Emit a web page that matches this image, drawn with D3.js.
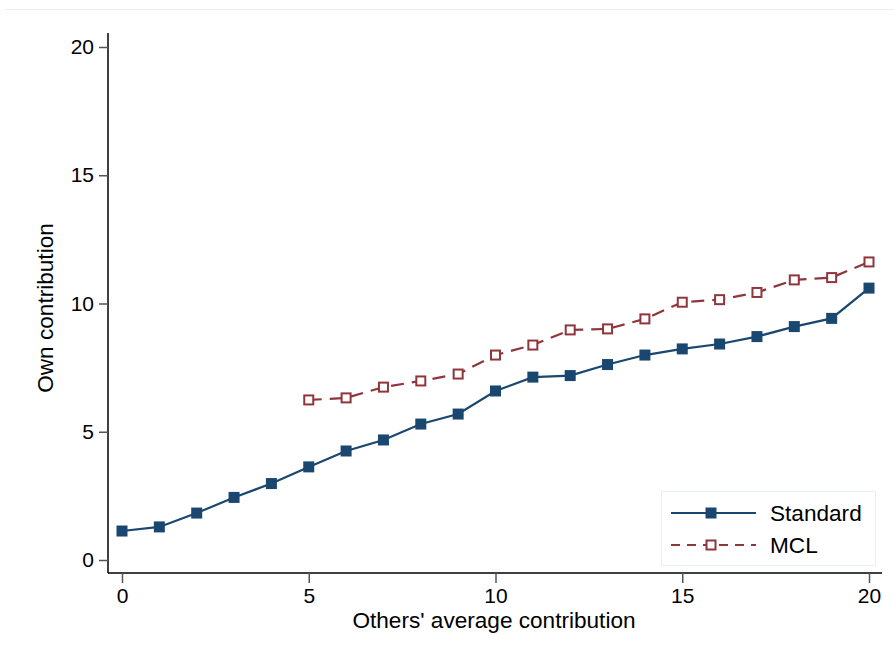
<!DOCTYPE html>
<html>
<head>
<meta charset="utf-8">
<script src="https://cdn.jsdelivr.net/npm/d3@7"></script>
<style>
  body { margin: 0; background: #fff; }
  text { font-family: "Liberation Sans", Arial, sans-serif; fill: #000; }
</style>
</head>
<body>
<div class="chart"></div>
<script>
// data
var xStandard = [0, 1, 2, 3, 4, 5, 6, 7, 8, 9, 10, 11, 12, 13, 14, 15, 16, 17, 18, 19, 20];
var yStandard = [1.13, 1.29, 1.83, 2.44, 2.98, 3.63, 4.25, 4.68, 5.3, 5.69, 6.59, 7.13, 7.19, 7.62, 7.99, 8.23, 8.42, 8.71, 9.1, 9.42, 10.6];
var xMCL = [5, 6, 7, 8, 9, 10, 11, 12, 13, 14, 15, 16, 17, 18, 19, 20];
var yMCL = [6.24, 6.32, 6.74, 6.98, 7.25, 7.99, 8.38, 8.97, 9.01, 9.4, 10.05, 10.15, 10.43, 10.92, 11.01, 11.62];
var xTicks = [0, 5, 10, 15, 20];
var yTicks = [0, 5, 10, 15, 20];
var seriesNames = ["Standard", "MCL"];

var svgWidth = 894;
var svgHeight = 657;

var svg = d3.select(".chart")
  .append("svg")
  .attr("width", svgWidth)
  .attr("height", svgHeight);

// faint frame line at the top
svg.append("line")
  .attr("x1", 5).attr("x2", svgWidth)
  .attr("y1", 9.5).attr("y2", 9.5)
  .attr("stroke", "#eeeeee");

var xScale = d3.scaleLinear().domain([0, 20]).range([122, 869]);
var yScale = d3.scaleLinear().domain([0, 20]).range([560, 47]);

// axes
var bottomAxis = d3.axisBottom(xScale).tickValues(xTicks).tickSize(10).tickSizeOuter(0).tickPadding(5);
var leftAxis = d3.axisLeft(yScale).tickValues(yTicks).tickSize(9).tickSizeOuter(0).tickPadding(5);

var gx = svg.append("g")
  .attr("transform", "translate(0,573)")
  .call(bottomAxis);
gx.select(".domain").attr("d", "M108,0H882").attr("stroke", "#000").attr("stroke-width", 1.5);
gx.selectAll(".tick line").attr("stroke", "#555").attr("stroke-width", 1.5);
gx.selectAll(".tick text").style("font-size", "21px").attr("font-family", null);

var gy = svg.append("g")
  .attr("transform", "translate(108,0)")
  .call(leftAxis);
gy.select(".domain").attr("d", "M0,33V573").attr("stroke", "#000").attr("stroke-width", 1.5);
gy.selectAll(".tick line").attr("stroke", "#555").attr("stroke-width", 1.5);
gy.selectAll(".tick text").style("font-size", "21px").attr("font-family", null);

// axis titles
svg.append("text")
  .attr("x", 494).attr("y", 628)
  .attr("text-anchor", "middle")
  .style("font-size", "22.6px")
  .text("Others' average contribution");

svg.append("text")
  .attr("transform", "translate(53,308) rotate(-90)")
  .attr("text-anchor", "middle")
  .style("font-size", "22.6px")
  .text("Own contribution");

var line = d3.line()
  .x(function(d) { return xScale(d[0]); })
  .y(function(d) { return yScale(d[1]); });

var standardData = xStandard.map(function(x, i) { return [x, yStandard[i]]; });
var mclData = xMCL.map(function(x, i) { return [x, yMCL[i]]; });

var navy = "#1a476f";
var maroon = "#90353b";

// MCL series (dashed, hollow squares)
svg.append("path")
  .datum(mclData)
  .attr("d", line)
  .attr("fill", "none")
  .attr("stroke", maroon)
  .attr("stroke-width", 2.2)
  .attr("stroke-dasharray", "13,8");

svg.selectAll(".mcl")
  .data(mclData)
  .enter()
  .append("rect")
  .attr("class", "mcl")
  .attr("x", function(d) { return xScale(d[0]) - 4.5; })
  .attr("y", function(d) { return yScale(d[1]) - 4.5; })
  .attr("width", 9)
  .attr("height", 9)
  .attr("fill", "#fff")
  .attr("stroke", maroon)
  .attr("stroke-width", 2);

// Standard series (solid, filled squares)
svg.append("path")
  .datum(standardData)
  .attr("d", line)
  .attr("fill", "none")
  .attr("stroke", navy)
  .attr("stroke-width", 2.2);

svg.selectAll(".std")
  .data(standardData)
  .enter()
  .append("rect")
  .attr("class", "std")
  .attr("x", function(d) { return xScale(d[0]) - 5.5; })
  .attr("y", function(d) { return yScale(d[1]) - 5.5; })
  .attr("width", 11)
  .attr("height", 11)
  .attr("fill", navy);

// legend
var legend = svg.append("g");
legend.append("rect")
  .attr("x", 661.5).attr("y", 491.5)
  .attr("width", 214).attr("height", 74)
  .attr("fill", "#fff")
  .attr("stroke", "#eaf0f0");

var rows = [
  {name: seriesNames[0], color: navy, dash: null, y: 513},
  {name: seriesNames[1], color: maroon, dash: "9,7", y: 545}
];
rows.forEach(function(r, i) {
  legend.append("line")
    .attr("x1", 671).attr("x2", 756)
    .attr("y1", r.y).attr("y2", r.y)
    .attr("stroke", r.color)
    .attr("stroke-width", 2.2)
    .attr("stroke-dasharray", r.dash);
  if (i === 0) {
    legend.append("rect")
      .attr("x", 711 - 5.5).attr("y", r.y - 5.5)
      .attr("width", 11).attr("height", 11)
      .attr("fill", r.color);
  } else {
    legend.append("rect")
      .attr("x", 711 - 4.5).attr("y", r.y - 4.5)
      .attr("width", 9).attr("height", 9)
      .attr("fill", "#fff")
      .attr("stroke", r.color)
      .attr("stroke-width", 2);
  }
  legend.append("text")
    .attr("x", 770).attr("y", r.y + 8)
    .style("font-size", "22.6px")
    .text(r.name);
});
</script>
</body>
</html>
